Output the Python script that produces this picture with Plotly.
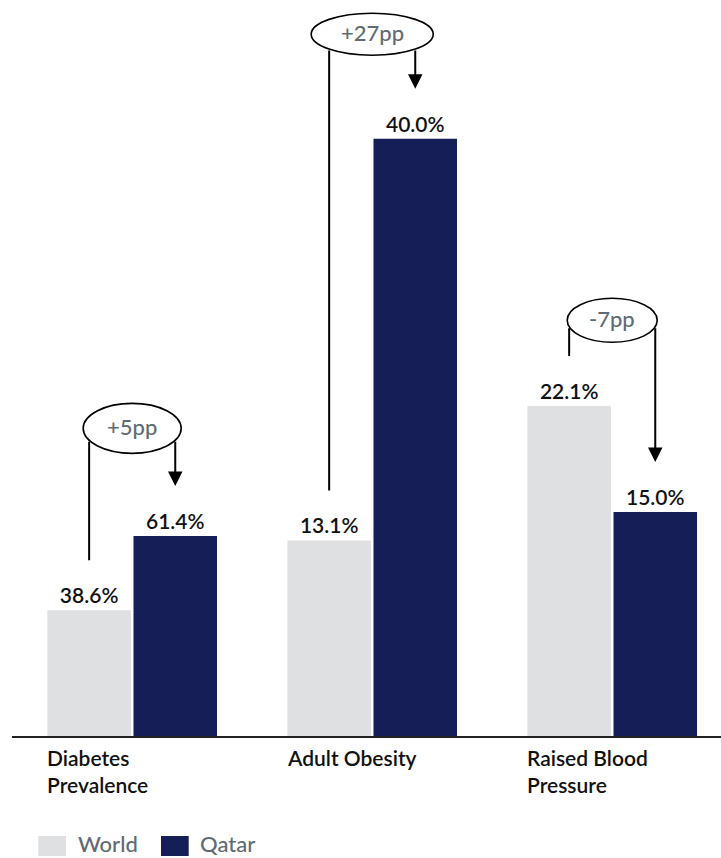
import math
import plotly.graph_objects as go

# ---- data -------------------------------------------------------------
categories = ["Diabetes Prevalence", "Adult Obesity", "Raised Blood Pressure"]
category_labels = ["Diabetes<br>Prevalence", "Adult Obesity", "Raised Blood<br>Pressure"]
series_names = ["World", "Qatar"]
world_values = [38.6, 13.1, 22.1]
qatar_values = [61.4, 40.0, 15.0]
gap_labels = ["+5pp", "+27pp", "-7pp"]

# ---- page geometry & style -------------------------------------------
W, H = 721, 858
M_L, M_R, M_T, M_B = 12, 0, 0, 122
PLOT_W = W - M_L - M_R
PLOT_H = H - M_T - M_B

COLORS = ["#dfe0e2", "#151e56"]
FONT = "Lato"
INK = "#111111"
GREY_TEXT = "#5f6b74"

BARGAP = 0.2825
BARGROUPGAP = 0.03
X_RANGE = [-0.5008, 2.4533]

# Diabetes is plotted on its own value scale (y2); the other two share y.
Y_MAIN_MAX = 49.3
Y_DIA_MAX = 226.0
Y_MAX = {"y": Y_MAIN_MAX, "y2": Y_DIA_MAX}

# callout ellipses: centre height (paper), half-width / half-height (px)
callout_level = [0.418, 0.9535, 0.5648]
callout_rx = [49, 61, 45]
callout_ry = [25, 21, 22]
ARROW_STANDOFF = 50


def axis_of(i):
    return "y2" if i == 0 else "y"


def px_x(px):
    return (px - M_L) / PLOT_W


def px_y(py):
    return (M_T + PLOT_H - py) / PLOT_H


fig = go.Figure()

series_values = [world_values, qatar_values]
for name, vals, color in zip(series_names, series_values, COLORS):
    # diabetes group on its own axis
    for idx_list, yax in (([0], "y2"), ([1, 2], "y")):
        fig.add_trace(
            go.Bar(
                name=name,
                x=[categories[i] for i in idx_list],
                y=[vals[i] for i in idx_list],
                yaxis=yax,
                marker=dict(color=color, line=dict(width=0)),
                texttemplate="%{y:.1f}%",
                textposition="outside",
                textfont=dict(family=FONT, size=21, color=INK, weight=600),
                cliponaxis=False,
                showlegend=False,
                hoverinfo="skip",
            )
        )

shapes = []
annotations = []

# bar centre offset from the category centre (category units)
slot = (1 - BARGAP) / 2
bar_offset = slot / 2
bar_offset_px = bar_offset * PLOT_W / (X_RANGE[1] - X_RANGE[0])

for i, label in enumerate(gap_labels):
    yax = axis_of(i)
    scale = PLOT_H / Y_MAX[yax]
    level_px = callout_level[i] * PLOT_H
    rx, ry = callout_rx[i], callout_ry[i]

    # connector from each bar up to the ellipse
    for j, vals in enumerate(series_values):
        v = vals[i]
        xc = i + (j - 0.5) * 2 * bar_offset
        top_px = v * scale
        dx = bar_offset_px
        dy = ry * math.sqrt(max(0.0, 1 - (dx / rx) ** 2))
        tail_px = level_px - dy
        annotations.append(
            dict(
                x=xc, y=v, xref="x", yref=yax,
                text="", showarrow=True,
                axref="pixel", ayref="pixel",
                ax=0, ay=-(tail_px - top_px),
                standoff=ARROW_STANDOFF,
                arrowhead=2 if j == 1 else 0,
                arrowsize=1.45, arrowwidth=2, arrowcolor="#000000",
            )
        )

    shapes.append(
        dict(
            type="circle", xref="x", yref="paper",
            xsizemode="pixel", ysizemode="pixel",
            xanchor=i, yanchor=callout_level[i],
            x0=-rx, x1=rx, y0=-ry, y1=ry,
            line=dict(color="#000000", width=1.6),
            fillcolor="#ffffff", layer="above",
        )
    )
    annotations.append(
        dict(
            x=i, y=callout_level[i], xref="x", yref="paper",
            yshift=2,
            text=label, showarrow=False,
            font=dict(family=FONT, size=22, color=GREY_TEXT, weight=500),
            xanchor="center", yanchor="middle",
        )
    )

# category labels, left-aligned under each group
for i, lab in enumerate(category_labels):
    annotations.append(
        dict(
            x=i, y=px_y(743), xref="x", yref="paper",
            xshift=-(bar_offset_px * 2) - 1,
            text=lab, showarrow=False, align="left",
            xanchor="left", yanchor="top",
            font=dict(family=FONT, size=21, color=INK, weight=600),
        )
    )

# legend
legend_boxes = [(38.3, 66.0), (161.0, 188.7)]
legend_text_x = [78.3, 200.0]
for (x0, x1), tx, name, color in zip(legend_boxes, legend_text_x, series_names, COLORS):
    shapes.append(
        dict(
            type="rect", xref="paper", yref="paper",
            x0=px_x(x0), x1=px_x(x1), y0=px_y(856), y1=px_y(836),
            line=dict(width=0), fillcolor=color,
        )
    )
    annotations.append(
        dict(
            x=px_x(tx - 2), y=px_y(843.5), xref="paper", yref="paper",
            text=name, showarrow=False, xanchor="left", yanchor="middle",
            font=dict(family=FONT, size=22, color=GREY_TEXT, weight=500),
        )
    )

fig.update_layout(
    width=W, height=H,
    margin=dict(l=M_L, r=M_R, t=M_T, b=M_B, pad=0),
    paper_bgcolor="#ffffff", plot_bgcolor="#ffffff",
    barmode="group", bargap=BARGAP, bargroupgap=BARGROUPGAP,
    showlegend=False,
    font=dict(family=FONT),
    xaxis=dict(
        type="category", categoryorder="array", categoryarray=categories,
        range=X_RANGE, showline=True, linecolor="#222222", linewidth=2,
        showticklabels=False, ticks="", showgrid=False, zeroline=False,
        fixedrange=True,
    ),
    yaxis=dict(range=[0, Y_MAIN_MAX], visible=False, fixedrange=True),
    yaxis2=dict(range=[0, Y_DIA_MAX], overlaying="y", visible=False, fixedrange=True),
    shapes=shapes,
    annotations=annotations,
)

fig.write_html("out.html")
